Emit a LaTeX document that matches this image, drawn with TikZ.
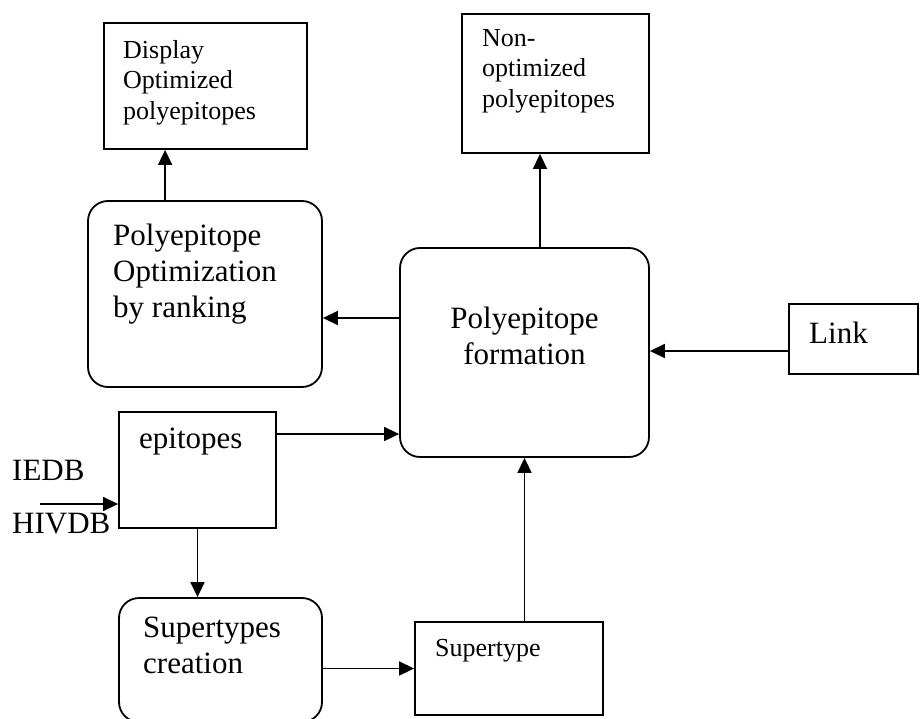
\documentclass[tikz,border=0pt]{standalone}
\usepackage{fontspec}
\setmainfont{Liberation Serif}
\usetikzlibrary{arrows.meta,calc}

\begin{document}
\begin{tikzpicture}[x=1pt,y=1pt,yscale=-1,xscale=1,
        box/.style={draw, line width=1.8pt, inner sep=0pt},
        rbox/.style={box, rounded corners=20pt},
        arr/.style={line width=1.6pt, -{Triangle[length=15pt,width=14pt]}},
        bigtxt/.style={font=\fontsize{31}{36}\selectfont, inner sep=0pt},
        smalltxt/.style={font=\fontsize{26}{30.5}\selectfont, inner sep=0pt}]
        \useasboundingbox (0,0) rectangle (920,719);

        %Shape: Rectangle
        \node[box, minimum width=203, minimum height=126] (disp) at (205.5,86) {};
        %Shape: Rectangle
        \node[box, minimum width=187, minimum height=139] (nonopt) at (555.5,83.5) {};
        %Shape: Rounded Rect
        \node[rbox, minimum width=234, minimum height=186] (opt) at (205,294) {};
        %Shape: Rounded Rect
        \node[rbox, minimum width=249, minimum height=209] (form) at (524.5,352.5) {};
        %Shape: Rectangle
        \node[box, minimum width=129, minimum height=70] (link) at (853.5,339) {};
        %Shape: Rectangle
        \node[box, minimum width=157, minimum height=116] (epi) at (197.5,470) {};
        %Shape: Rounded Rect
        \node[rbox, minimum width=203, minimum height=124] (stc) at (220.5,660) {};
        %Shape: Rectangle
        \node[box, minimum width=188, minimum height=93] (st) at (509,668.5) {};

        %Straight Lines
        \coordinate (up1) at ($(opt.north west)+(78,0)$);
        \draw[arr] (up1) -- (up1 |- disp.south);
        \coordinate (up2) at ($(form.north)+(15.5,0)$);
        \draw[arr] (up2) -- (up2 |- nonopt.south);
        \coordinate (lft1) at ($(form.west)+(0,-34.5)$);
        \draw[arr] (lft1) -- (lft1 -| opt.east);
        \coordinate (lft2) at ($(link.west)+(0,12)$);
        \draw[arr] (lft2) -- (lft2 -| form.east);
        \coordinate (rgt1) at ($(epi.east)+(0,-36)$);
        \draw[arr] (rgt1) -- (rgt1 -| form.west);
        \coordinate (src) at (40,504);
        \draw[arr] (src) -- (src -| epi.west);
        \draw[arr] (epi.south) -- (epi.south |- stc.north);
        \draw[arr] (st.west -| stc.east) -- (st.west);
        \draw[arr] (form.south |- st.north) -- (form.south);

        % Text Node
        \node[smalltxt, anchor=north west, align=left] (disptxt) at (123,40.2) {Display\\Optimized\\polyepitopes};
        % Text Node
        \node[smalltxt, anchor=north west, align=left] (nonopttxt) at (482,28.8) {Non-\\optimized\\polyepitopes};
        % Text Node
        \node[bigtxt, anchor=north west, align=left] (opttxt) at (113,223.8) {Polyepitope\\Optimization\\by ranking};
        % Text Node
        \node[bigtxt, anchor=north, align=center] (formtxt) at (524.5,306.8) {Polyepitope\\formation};
        % Text Node
        \node[bigtxt, anchor=base west] (linktxt) at (809,343) {Link};
        % Text Node
        \node[bigtxt, anchor=base west] (epitxt) at (139,448) {epitopes};
        % Text Node
        \node[bigtxt, anchor=base west] (iedb) at (12,480) {IEDB};
        % Text Node
        \node[bigtxt, anchor=base west] (hivdb) at (12,533) {HIVDB};
        % Text Node
        \node[bigtxt, anchor=north west, align=left] (stctxt) at (143,617) {Supertypes\\creation};
        % Text Node
        \node[smalltxt, anchor=base west] (sttxt) at (435,656) {Supertype};

\end{tikzpicture}
\end{document}
